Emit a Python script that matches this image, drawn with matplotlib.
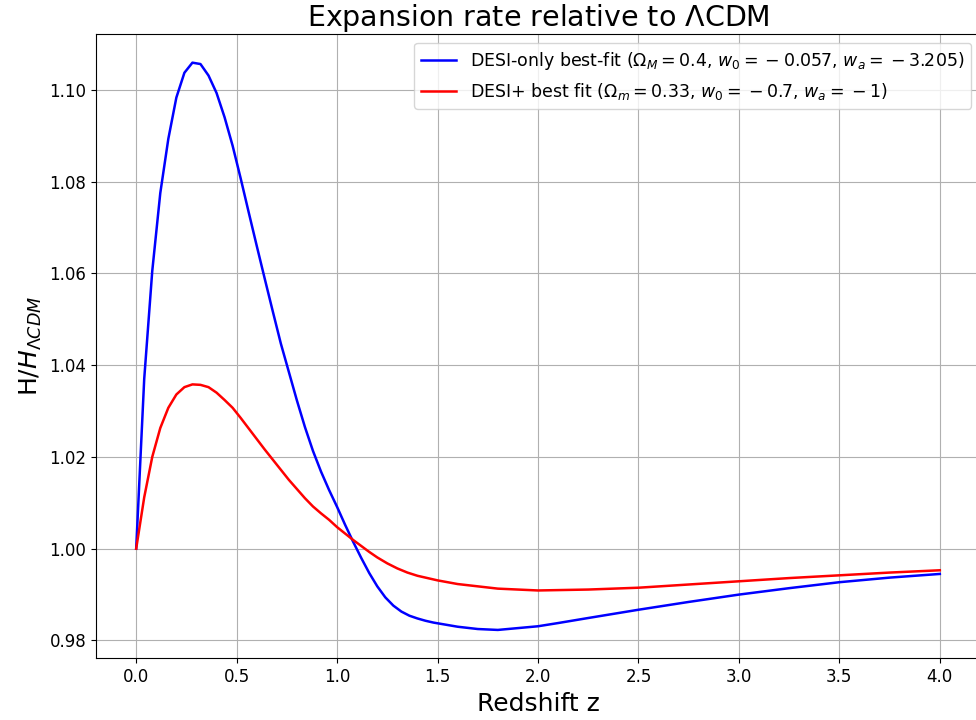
import matplotlib
matplotlib.use("Agg")
from matplotlib import pyplot as plt

# values
z_blue = [0.0, 0.04, 0.08, 0.12, 0.16, 0.20, 0.24, 0.28, 0.32, 0.36, 0.40,
          0.44, 0.48, 0.52, 0.56, 0.60, 0.64, 0.68, 0.72, 0.76, 0.80, 0.84,
          0.88, 0.92, 0.96, 1.00, 1.04, 1.08, 1.12, 1.16, 1.20, 1.24, 1.28,
          1.32, 1.36, 1.40, 1.44, 1.48, 1.52, 1.60, 1.70, 1.80, 1.90, 2.00,
          2.10, 2.25, 2.50, 2.75, 3.00, 3.25, 3.50, 3.75, 4.00]
h_blue = [1.0000, 1.0370, 1.0605, 1.0775, 1.0893, 1.0983, 1.1037, 1.1059,
          1.1056, 1.1031, 1.0993, 1.0940, 1.0878, 1.0807, 1.0733, 1.0660,
          1.0588, 1.0517, 1.0447, 1.0385, 1.0323, 1.0265, 1.0213, 1.0168,
          1.0128, 1.0091, 1.0052, 1.0015, 0.9980, 0.9947, 0.9918, 0.9894,
          0.9876, 0.9863, 0.9854, 0.9848, 0.9843, 0.9839, 0.9836, 0.9830,
          0.9825, 0.9823, 0.9827, 0.9831, 0.9838, 0.9849, 0.9867, 0.9884,
          0.9900, 0.9914, 0.9927, 0.9937, 0.9945]

z_red = [0.0, 0.04, 0.08, 0.12, 0.16, 0.20, 0.24, 0.28, 0.32, 0.36,
         0.40, 0.44, 0.48, 0.52, 0.56, 0.60, 0.64, 0.68, 0.72, 0.76, 0.80,
         0.84, 0.88, 0.92, 0.96, 1.00, 1.04, 1.08, 1.12, 1.16, 1.20, 1.25,
         1.30, 1.35, 1.40, 1.50, 1.60, 1.70, 1.80, 1.90, 2.00, 2.25, 2.50,
         2.75, 3.00, 3.25, 3.50, 3.75, 4.00]
h_red = [1.0000, 1.0112, 1.0200, 1.0263, 1.0307, 1.0336, 1.0352,
         1.0358, 1.0357, 1.0352, 1.0340, 1.0324, 1.0307, 1.0285, 1.0262,
         1.0239, 1.0216, 1.0194, 1.0172, 1.0150, 1.0130, 1.0110, 1.0092,
         1.0077, 1.0063, 1.0047, 1.0033, 1.0019, 1.0006, 0.9993, 0.9981,
         0.9968, 0.9957, 0.9948, 0.9941, 0.9931, 0.9923, 0.9918, 0.9913,
         0.9911, 0.9909, 0.9911, 0.9915, 0.9922, 0.9929, 0.9936, 0.9942,
         0.9948, 0.9953]

label_blue = (r'DESI-only best-fit ($\Omega_M = 0.4$, $w_0 = \:-\:0.057$, '
              r'$w_a = \:-\:3.205$)')
label_red = r'DESI+ best fit ($\Omega_m = 0.33$, $w_0 = \:-\:0.7$, $w_a = \:-\:1$)'

fig = plt.figure(figsize=(9.76, 7.2), dpi=100)
ax = fig.add_axes([96 / 976, 61.7 / 720, 884 / 976, 624 / 720])

ax.plot(z_blue, h_blue, color='blue', lw=1.8, label=label_blue)
ax.plot(z_red, h_red, color='red', lw=1.8, label=label_red)

ax.set_title(r'Expansion rate relative to $\Lambda$CDM', fontsize=20.5)
ax.set_xlabel('Redshift z', fontsize=18)
ax.set_ylabel(r'H/$H_{\Lambda CDM}$', fontsize=18)
ax.tick_params(labelsize=12)
ax.grid(True)
ax.legend(loc='upper right', fontsize=12.5)

fig.savefig('out.png', dpi=100)
